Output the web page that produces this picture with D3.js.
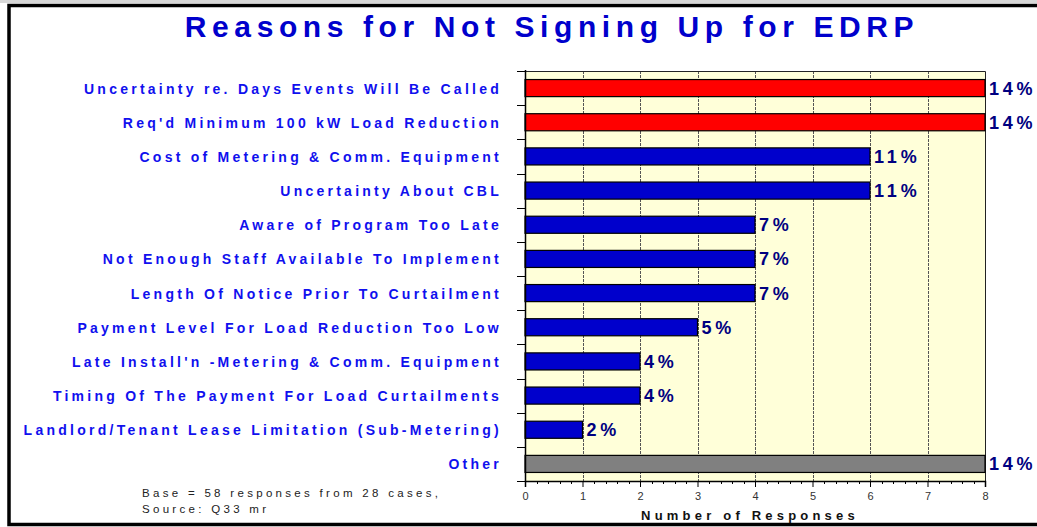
<!DOCTYPE html>
<html>
<head>
<meta charset="utf-8">
<script src="https://cdn.jsdelivr.net/npm/d3@7"></script>
<style>
  html, body { margin: 0; padding: 0; background: #ffffff; }
  svg { display: block; font-family: "Liberation Sans", Arial, sans-serif; }
</style>
</head>
<body>
<svg id="chart" width="1037" height="527"></svg>
<script>
// Survey reasons (top to bottom) and number of responses for each
const reasons = [
  "Uncertainty re. Days Events Will Be Called",
  "Req'd Minimum 100 kW Load Reduction",
  "Cost of Metering & Comm. Equipment",
  "Uncertainty About CBL",
  "Aware of Program Too Late",
  "Not Enough Staff Available To Implement",
  "Length Of Notice Prior To Curtailment",
  "Payment Level For Load Reduction Too Low",
  "Late Install'n -Metering & Comm. Equipment",
  "Timing Of The Payment For Load Curtailments",
  "Landlord/Tenant Lease Limitation (Sub-Metering)",
  "Other"
];
const responses = [8, 8, 6, 6, 4, 4, 4, 3, 2, 2, 1, 8];
const percentLabels = ["14%", "14%", "11%", "11%", "7%", "7%", "7%", "5%", "4%", "4%", "2%", "14%"];
const barGroups = ["top", "top", "main", "main", "main", "main", "main", "main", "main", "main", "main", "other"];
const xTicks = [0, 1, 2, 3, 4, 5, 6, 7, 8];
const footnotes = ["Base = 58 responses from 28 cases,", "Source: Q33 mr"];

const svg = d3.select("#chart");
const plot = { left: 525, right: 985, top: 71, bottom: 481 };

const groupColor = d3.scaleOrdinal()
  .domain(["top", "main", "other"])
  .range(["#ff0000", "#0000cc", "#808080"]);

const x = d3.scaleLinear().domain([0, 8]).range([plot.left, plot.right]);
const y = d3.scaleBand().domain(reasons).range([plot.top, plot.bottom])
  .paddingInner(0.5).paddingOuter(0.25);

// outer frame
svg.append("rect").attr("x", 0).attr("y", 0).attr("width", 1037).attr("height", 3).attr("fill", "#d8d8d8");
svg.append("rect")
  .attr("x", 9).attr("y", 5.5).attr("width", 1100).attr("height", 519)
  .attr("fill", "none").attr("stroke", "#000").attr("stroke-width", 3.5);

// title
svg.append("text")
  .attr("x", 552).attr("y", 37)
  .attr("text-anchor", "middle")
  .attr("font-size", 30).attr("font-weight", "bold")
  .attr("letter-spacing", "5.6px")
  .attr("fill", "#0000cc")
  .text("Reasons for Not Signing Up for EDRP");

// plot background
svg.append("rect")
  .attr("x", plot.left).attr("y", plot.top)
  .attr("width", plot.right - plot.left).attr("height", plot.bottom - plot.top)
  .attr("fill", "#ffffd9");

// vertical gridlines
svg.append("g").selectAll("line")
  .data(xTicks.filter(t => t > 0 && t < 8))
  .join("line")
  .attr("x1", d => Math.round(x(d)) + 0.5).attr("x2", d => Math.round(x(d)) + 0.5)
  .attr("y1", plot.top).attr("y2", plot.bottom)
  .attr("stroke", "#555").attr("stroke-width", 1).attr("stroke-dasharray", "3,1");

// plot border (top / right)
svg.append("path")
  .attr("d", `M${plot.left},${plot.top + 0.5}H${plot.right + 0.5}V${plot.bottom}`)
  .attr("fill", "none").attr("stroke", "#222").attr("stroke-width", 1);

// bars
svg.append("g").selectAll("rect")
  .data(reasons)
  .join("rect")
  .attr("x", x(0))
  .attr("y", d => y(d))
  .attr("width", (d, i) => x(responses[i]) - x(0))
  .attr("height", y.bandwidth())
  .attr("fill", (d, i) => groupColor(barGroups[i]))
  .attr("stroke", "#000").attr("stroke-width", 1.2);

// percentage labels at the end of each bar
svg.append("g").selectAll("text")
  .data(reasons)
  .join("text")
  .attr("x", (d, i) => x(responses[i]) + 4)
  .attr("y", d => y(d) + y.bandwidth() / 2 + 6.5)
  .attr("font-size", 18).attr("font-weight", "bold")
  .attr("letter-spacing", "3.8px")
  .attr("fill", "#000080")
  .text((d, i) => percentLabels[i]);

// category axis: line, ticks at band boundaries, labels
const yAxisG = svg.append("g");
yAxisG.append("line")
  .attr("x1", plot.left + 0.5).attr("x2", plot.left + 0.5)
  .attr("y1", plot.top - 1).attr("y2", plot.bottom + 1)
  .attr("stroke", "#000").attr("stroke-width", 1.5);
const bounds = d3.range(reasons.length + 1).map(i => plot.top + i * y.step());
yAxisG.selectAll("line.tick")
  .data(bounds)
  .join("line")
  .attr("class", "tick")
  .attr("x1", plot.left - 8).attr("x2", plot.left)
  .attr("y1", d => Math.round(d) + 0.5).attr("y2", d => Math.round(d) + 0.5)
  .attr("stroke", "#000").attr("stroke-width", 1);
yAxisG.selectAll("text")
  .data(reasons)
  .join("text")
  .attr("x", 502)
  .attr("y", d => y(d) + y.bandwidth() / 2 + 5.5)
  .attr("text-anchor", "end")
  .attr("font-size", 14).attr("font-weight", "bold")
  .attr("letter-spacing", "3.25px")
  .attr("fill", "#1010ee")
  .text(d => d);

// value axis
const xAxis = d3.axisBottom(x).tickValues(xTicks).tickSize(6).tickFormat(d3.format("d"));
const xAxisG = svg.append("g")
  .attr("transform", `translate(0,${plot.bottom})`)
  .call(xAxis);
xAxisG.select(".domain").attr("stroke", "#000").attr("stroke-width", 1.5);
xAxisG.selectAll(".tick line").attr("stroke", "#000");
xAxisG.selectAll(".tick text")
  .attr("font-family", "Liberation Sans, Arial, sans-serif")
  .attr("font-size", 11).attr("fill", "#333").attr("dy", "0.75em").attr("y", 11);
// minor ticks every 0.2
svg.append("g").selectAll("line")
  .data(d3.range(0, 40).filter(i => i % 5 !== 0).map(i => i / 5))
  .join("line")
  .attr("x1", d => Math.round(x(d)) + 0.5).attr("x2", d => Math.round(x(d)) + 0.5)
  .attr("y1", plot.bottom).attr("y2", plot.bottom + 3)
  .attr("stroke", "#000").attr("stroke-width", 1);

// axis title
svg.append("text")
  .attr("x", 750).attr("y", 519.5)
  .attr("text-anchor", "middle")
  .attr("font-size", 13).attr("font-weight", "bold")
  .attr("letter-spacing", "4.2px")
  .attr("fill", "#111")
  .text("Number of Responses");

// footnote
svg.append("g").selectAll("text")
  .data(footnotes)
  .join("text")
  .attr("x", 142)
  .attr("y", (d, i) => 497 + i * 16)
  .attr("font-size", 11.5)
  .attr("letter-spacing", "3.3px")
  .attr("fill", "#222")
  .text(d => d);
</script>
</body>
</html>
